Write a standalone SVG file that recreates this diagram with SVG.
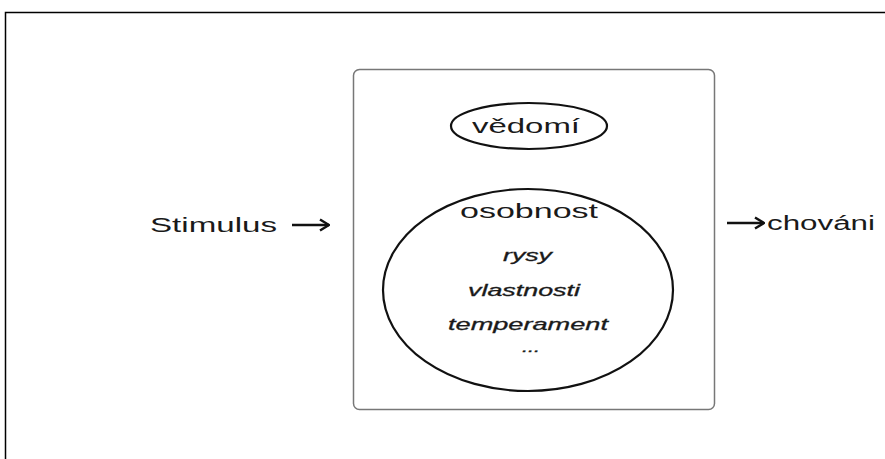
<svg xmlns="http://www.w3.org/2000/svg" width="885" height="459" viewBox="0 0 885 459">
<style>
  text { font-family: "Liberation Sans", Arial, sans-serif; fill: #1a1a1a; }
  .lbl { font-size: 20px; }
  .it { font-size: 17px; font-style: italic; stroke: #1a1a1a; stroke-width: 0.3; }
  .edge { stroke: #111; stroke-width: 2.5; fill: none; }
</style>
<defs>
  <marker id="ah" viewBox="0 0 12 14" refX="11" refY="7" markerWidth="12" markerHeight="14" markerUnits="userSpaceOnUse" orient="auto">
    <path d="M2,1.5 L11,7 L2,12.5" fill="none" stroke="#111" stroke-width="2.5"/>
  </marker>
</defs>
<rect x="0" y="0" width="885" height="459" fill="#fff"/>
<path d="M5.5,465 L5.5,12.5 L890,12.5" fill="none" stroke="#000" stroke-width="1.5"/>
<g id="system">
  <rect x="353.5" y="69.5" width="361" height="340" rx="6" fill="#fff" stroke="#777" stroke-width="1.5"/>
</g>
<g id="vedomi">
  <ellipse cx="529" cy="126" rx="78" ry="23" fill="none" stroke="#111" stroke-width="2.2"/>
  <text class="lbl" x="472" y="133" textLength="108" lengthAdjust="spacingAndGlyphs">vědomí</text>
</g>
<g id="osobnost">
  <ellipse cx="528" cy="290" rx="145" ry="101" fill="none" stroke="#111" stroke-width="2.2"/>
  <text class="lbl" x="460" y="218" textLength="138" lengthAdjust="spacingAndGlyphs">osobnost</text>
  <text class="it" x="503" y="261" textLength="49" lengthAdjust="spacingAndGlyphs">rysy</text>
  <text class="it" x="468" y="296" textLength="112" lengthAdjust="spacingAndGlyphs">vlastnosti</text>
  <text class="it" x="448" y="330" textLength="160" lengthAdjust="spacingAndGlyphs">temperament</text>
  <text class="it" x="522" y="352" textLength="18" lengthAdjust="spacingAndGlyphs" style="font-size:12px">...</text>
</g>
<g id="stimulus">
  <text class="lbl" x="150" y="232" textLength="127" lengthAdjust="spacingAndGlyphs">Stimulus</text>
</g>
<g id="chovani">
  <text class="lbl" x="767" y="230" textLength="108" lengthAdjust="spacingAndGlyphs">chováni</text>
</g>
<g id="connectors">
  <line class="edge" x1="292" y1="225" x2="329" y2="225" marker-end="url(#ah)"/>
  <line class="edge" x1="727" y1="223" x2="764" y2="223" marker-end="url(#ah)"/>
</g>
</svg>
